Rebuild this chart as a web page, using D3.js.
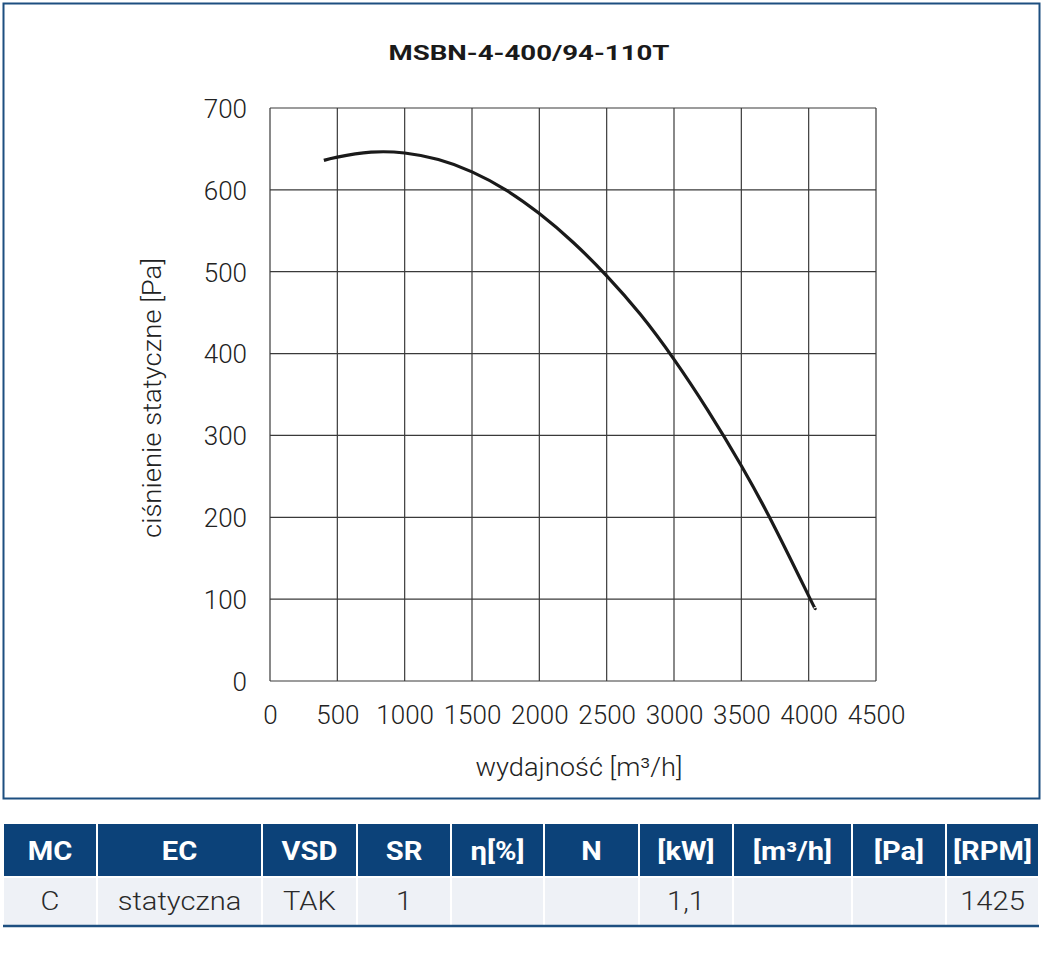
<!DOCTYPE html>
<html>
<head>
<meta charset="utf-8">
<script src="https://cdn.jsdelivr.net/npm/d3@7"></script>
<style>
	body { margin: 0; background: #fff; }
	text { font-family: Roboto, 'Noto Sans', sans-serif; }
</style>
</head>
<body>
<svg id="chart" width="1043" height="957"></svg>
<script>
// curve: airflow [m3/h] vs static pressure [Pa]
const flow = [400, 500, 750, 1000, 1250, 1500, 1750, 2000, 2250, 2500, 2750, 3000, 3250, 3500, 3750, 4000, 4047]
const pressure = [636, 640, 646, 645, 637, 622, 600, 571, 536, 495, 448, 393, 331, 263, 187, 104, 89]

const xTicks = [0, 500, 1000, 1500, 2000, 2500, 3000, 3500, 4000, 4500]
const yTicks = [0, 100, 200, 300, 400, 500, 600, 700]

const title = 'MSBN-4-400/94-110T'
const xTitle = 'wydajność [m³/h]'
const yTitle = 'ciśnienie statyczne [Pa]'

const tableHeaders = ['MC', 'EC', 'VSD', 'SR', 'η[%]', 'N', '[kW]', '[m³/h]', '[Pa]', '[RPM]']
const tableRow = ['C', 'statyczna', 'TAK', '1', '', '', '1,1', '', '', '1425']
const colEdges = [3, 97, 262, 357, 451, 544, 639, 733, 852, 946, 1039]

const svg = d3.select('#chart')
const blue = '#0c4279'
const frame = '#1d4f80'

// outer frame
svg.append('rect')
	.attr('x', 3.5).attr('y', 3.5)
	.attr('width', 1036).attr('height', 795)
	.attr('fill', 'none')
	.attr('stroke', frame)
	.attr('stroke-width', 2)

const x = d3.scaleLinear().domain([0, 4500]).range([270, 876])
const y = d3.scaleLinear().domain([0, 700]).range([681, 108])

// grid
const grid = svg.append('g').attr('class', 'grid')
grid.selectAll('line.v')
	.data(xTicks)
	.join('line')
	.attr('class', 'v')
	.attr('x1', d => x(d)).attr('x2', d => x(d))
	.attr('y1', y(0)).attr('y2', y(700))
	.attr('stroke', '#3a3a3a')
	.attr('stroke-width', 1.2)
grid.selectAll('line.h')
	.data(yTicks)
	.join('line')
	.attr('class', 'h')
	.attr('x1', x(0)).attr('x2', x(4500))
	.attr('y1', d => y(d)).attr('y2', d => y(d))
	.attr('stroke', '#3a3a3a')
	.attr('stroke-width', 1.2)

// axes (labels only, lines come from grid)
const xAxis = svg.append('g')
	.attr('transform', `translate(0,${y(0)})`)
	.call(d3.axisBottom(x).tickValues(xTicks).tickFormat(d3.format('d')).tickSize(0).tickPadding(25))
const yAxis = svg.append('g')
	.attr('transform', `translate(${x(0)},0)`)
	.call(d3.axisLeft(y).tickValues(yTicks).tickFormat(d3.format('d')).tickSize(0).tickPadding(23))
;[xAxis, yAxis].forEach(a => {
	a.select('.domain').remove()
	a.selectAll('text')
		.attr('font-family', 'Roboto, sans-serif')
		.attr('font-size', 26)
		.attr('font-weight', 300)
		.attr('fill', '#222')
})
yAxis.selectAll('text').attr('dy', '0.36em')

// curve
const points = flow.map((f, i) => [f, pressure[i]])
svg.append('path')
	.datum(points)
	.attr('d', d3.line()
		.x(d => x(d[0]))
		.y(d => y(d[1]))
		.curve(d3.curveNatural))
	.attr('fill', 'none')
	.attr('stroke', '#1a1a1a')
	.attr('stroke-width', 3.2)

// titles
svg.append('text')
	.attr('x', 529).attr('y', 60)
	.attr('text-anchor', 'middle')
	.attr('font-size', 21)
	.attr('font-weight', 700)
	.attr('fill', '#1a1a1a')
	.attr('textLength', 281)
	.attr('lengthAdjust', 'spacingAndGlyphs')
	.text(title)

svg.append('text')
	.attr('x', 579).attr('y', 776)
	.attr('text-anchor', 'middle')
	.attr('font-size', 26)
	.attr('font-weight', 300)
	.attr('fill', '#222')
	.attr('textLength', 207)
	.attr('lengthAdjust', 'spacingAndGlyphs')
	.text(xTitle)

svg.append('text')
	.attr('transform', 'translate(161,398) rotate(-90)')
	.attr('text-anchor', 'middle')
	.attr('font-size', 26)
	.attr('font-weight', 300)
	.attr('fill', '#222')
	.attr('textLength', 280)
	.attr('lengthAdjust', 'spacingAndGlyphs')
	.text(yTitle)

// table
const headTop = 824, headBottom = 877, rowBottom = 925
const cols = tableHeaders.map((h, i) => ({
	head: h,
	val: tableRow[i],
	x0: colEdges[i],
	x1: colEdges[i + 1]
}))
const table = svg.append('g').attr('class', 'table')
table.selectAll('rect.head')
	.data(cols)
	.join('rect')
	.attr('class', 'head')
	.attr('x', d => d.x0 + 1).attr('y', headTop)
	.attr('width', d => d.x1 - d.x0 - 2).attr('height', headBottom - headTop - 1)
	.attr('fill', blue)
table.selectAll('rect.cell')
	.data(cols)
	.join('rect')
	.attr('class', 'cell')
	.attr('x', d => d.x0 + 1).attr('y', headBottom + 1)
	.attr('width', d => d.x1 - d.x0 - 2).attr('height', rowBottom - headBottom - 1)
	.attr('fill', '#eef1f6')
table.selectAll('text.head')
	.data(cols)
	.join('text')
	.attr('class', 'head')
	.attr('transform', d => `translate(${(d.x0 + d.x1) / 2},${(headTop + headBottom) / 2}) scale(1.12,1)`)
	.attr('dy', '0.36em')
	.attr('text-anchor', 'middle')
	.attr('font-size', 26)
	.attr('font-weight', 700)
	.attr('fill', '#fff')
	.text(d => d.head)
table.selectAll('text.cell')
	.data(cols)
	.join('text')
	.attr('class', 'cell')
	.attr('transform', d => `translate(${(d.x0 + d.x1) / 2},${(headBottom + rowBottom) / 2}) scale(1.12,1)`)
	.attr('dy', '0.36em')
	.attr('text-anchor', 'middle')
	.attr('font-size', 26)
	.attr('font-weight', 300)
	.attr('fill', '#2a2a2a')
	.text(d => d.val)
table.append('line')
	.attr('x1', 3).attr('x2', 1039)
	.attr('y1', rowBottom + 1).attr('y2', rowBottom + 1)
	.attr('stroke', frame)
	.attr('stroke-width', 2.5)
</script>
</body>
</html>
